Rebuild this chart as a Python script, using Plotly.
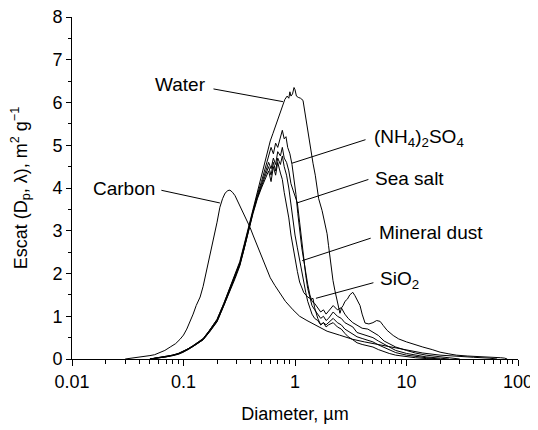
import math
import plotly.graph_objects as go

# ---------------- data ----------------
water_x = [0.05, 0.06, 0.07, 0.08, 0.09, 0.1, 0.11, 0.12, 0.13, 0.15, 0.17, 0.2, 0.23, 0.26, 0.29, 0.32,
           0.35, 0.38, 0.42, 0.46, 0.5, 0.54, 0.57, 0.6, 0.635, 0.67, 0.705, 0.74, 0.78, 0.81, 0.85, 0.88,
           0.9, 0.92, 0.95, 0.98, 1.0, 1.03, 1.07, 1.12, 1.18, 1.24, 1.3, 1.36, 1.45, 1.52, 1.57, 1.63,
           1.75, 1.85, 1.94, 2.0, 2.06, 2.12, 2.19, 2.28, 2.38, 2.46, 2.53, 2.62, 2.7, 2.81, 2.95, 3.1,
           3.3, 3.45, 3.6, 3.83, 4.0, 4.25, 4.6, 5.0, 5.4, 5.8, 6.2, 6.7, 7.6, 8.5, 10, 12, 14, 17, 20,
           24, 28, 35, 45, 56, 70, 76, 80]
water_y = [0.0, 0.03, 0.06, 0.09, 0.13, 0.18, 0.24, 0.3, 0.36, 0.48, 0.66, 0.93, 1.3, 1.66, 1.97, 2.28,
           2.68, 3.05, 3.52, 3.9, 4.25, 4.6, 4.9, 5.1, 5.28, 5.45, 5.6, 5.8, 5.95, 6.07, 6.15, 6.1,
           6.25, 6.15, 6.2, 6.35, 6.3, 6.15, 6.12, 6.1, 6.05, 5.67, 5.35, 5.05, 4.58, 4.3, 4.05, 3.75,
           3.47, 3.2, 2.93, 2.65, 2.37, 2.1, 1.84, 1.6, 1.37, 1.2, 1.07, 1.2, 1.25, 1.35, 1.4, 1.5,
           1.56, 1.48, 1.4, 1.25, 1.05, 0.84, 0.82, 0.85, 0.9, 0.88, 0.78, 0.67, 0.55, 0.47, 0.4, 0.33, 0.28, 0.22, 0.16,
           0.12, 0.09, 0.07, 0.06, 0.05, 0.03, 0.02, 0.0]

nh4_x = [0.05, 0.06, 0.07, 0.08, 0.09, 0.1, 0.11, 0.12, 0.13, 0.15, 0.17, 0.2, 0.23, 0.26, 0.29, 0.32,
         0.35, 0.38, 0.42, 0.46, 0.5, 0.54, 0.58, 0.61, 0.64, 0.67, 0.7, 0.74, 0.77, 0.8, 0.83, 0.86,
         0.9, 0.94, 0.98, 1.02, 1.06, 1.1, 1.15, 1.2, 1.25, 1.3, 1.36, 1.42, 1.5, 1.6, 1.7, 1.8, 1.9,
         2.0, 2.2, 2.4, 2.6, 2.8, 3.0, 3.3, 3.6, 4.0, 4.5, 5.0, 5.6, 6.3, 7.0, 8.0, 10, 12, 15, 20, 25, 30]
nh4_y = [0.0, 0.03, 0.06, 0.09, 0.13, 0.18, 0.24, 0.3, 0.36, 0.47, 0.66, 0.92, 1.3, 1.65, 1.95, 2.25,
         2.65, 3.02, 3.5, 3.85, 4.15, 4.45, 4.75, 4.95, 4.8, 5.05, 4.95, 5.2, 5.35, 5.15, 5.2, 4.95,
         4.8, 4.55, 4.2, 3.85, 3.4, 3.0, 2.6, 2.3, 2.0, 1.75, 1.5, 1.35, 1.3, 1.2, 1.1, 1.15, 1.05,
         1.12, 1.25, 1.15, 1.2, 1.05, 0.95, 0.85, 0.8, 0.72, 0.7, 0.63, 0.55, 0.42, 0.35, 0.28, 0.2, 0.14, 0.09, 0.05, 0.03, 0.0]

seasalt_x = [0.05, 0.06, 0.07, 0.08, 0.09, 0.1, 0.11, 0.12, 0.13, 0.15, 0.17, 0.2, 0.23, 0.26, 0.29, 0.32,
             0.35, 0.38, 0.42, 0.46, 0.5, 0.54, 0.58, 0.61, 0.64, 0.67, 0.7, 0.74, 0.77, 0.8, 0.84, 0.88,
             0.92, 0.96, 1.0, 1.05, 1.1, 1.15, 1.2, 1.25, 1.3, 1.36, 1.42, 1.5, 1.6, 1.7, 1.8, 1.9, 2.0,
             2.2, 2.4, 2.6, 2.8, 3.0, 3.3, 3.6, 4.0, 4.5, 5.0, 5.6, 6.3, 7.0, 8.0, 10, 12, 15, 20, 24]
seasalt_y = [0.0, 0.02, 0.05, 0.09, 0.12, 0.17, 0.23, 0.29, 0.35, 0.46, 0.64, 0.9, 1.27, 1.62, 1.93, 2.22,
             2.6, 3.0, 3.46, 3.8, 4.1, 4.4, 4.6, 4.45, 4.7, 4.55, 4.85, 4.75, 4.95, 4.7, 4.6, 4.4,
             4.1, 3.95, 3.8, 3.65, 3.2, 2.75, 2.3, 1.95, 1.65, 1.45, 1.25, 1.15, 1.05, 0.95, 1.0, 0.9, 0.95,
             1.1, 1.0, 0.95, 0.85, 0.8, 0.75, 0.62, 0.58, 0.55, 0.5, 0.42, 0.35, 0.28, 0.2, 0.13, 0.09, 0.05, 0.02, 0.0]

dust_x = [0.05, 0.06, 0.07, 0.08, 0.09, 0.1, 0.11, 0.12, 0.13, 0.15, 0.17, 0.2, 0.23, 0.26, 0.29, 0.32,
          0.35, 0.38, 0.42, 0.46, 0.5, 0.54, 0.58, 0.61, 0.64, 0.67, 0.7, 0.74, 0.77, 0.8, 0.84, 0.88,
          0.92, 0.96, 1.0, 1.05, 1.1, 1.15, 1.2, 1.25, 1.3, 1.36, 1.42, 1.5, 1.6, 1.7, 1.8, 1.9, 2.0,
          2.2, 2.4, 2.6, 2.8, 3.0, 3.3, 3.6, 4.0, 4.5, 5.0, 5.6, 6.3, 7.0, 8.0, 10, 12, 15, 20]
dust_y = [0.0, 0.03, 0.05, 0.08, 0.12, 0.17, 0.22, 0.28, 0.34, 0.45, 0.63, 0.88, 1.25, 1.6, 1.9, 2.2,
          2.58, 2.97, 3.43, 3.78, 4.05, 4.3, 4.5, 4.3, 4.6, 4.4, 4.7, 4.55, 4.75, 4.5, 4.3, 4.0,
          3.6, 3.2, 2.9, 2.6, 2.3, 2.0, 1.75, 1.55, 1.35, 1.2, 1.05, 0.95, 0.9, 0.8, 0.85, 0.8, 0.85,
          0.95, 0.85, 0.8, 0.7, 0.65, 0.6, 0.52, 0.48, 0.44, 0.4, 0.33, 0.27, 0.2, 0.15, 0.09, 0.06, 0.03, 0.0]

sio2_x = [0.05, 0.06, 0.07, 0.08, 0.09, 0.1, 0.11, 0.12, 0.13, 0.15, 0.17, 0.2, 0.23, 0.26, 0.29, 0.32,
          0.35, 0.38, 0.42, 0.46, 0.5, 0.54, 0.58, 0.61, 0.64, 0.67, 0.7, 0.74, 0.77, 0.8, 0.84, 0.88,
          0.92, 0.96, 1.0, 1.05, 1.1, 1.15, 1.2, 1.3, 1.4, 1.45, 1.5, 1.6, 1.7, 1.8, 1.9, 2.0, 2.2,
          2.4, 2.6, 2.8, 3.0, 3.3, 3.6, 4.0, 4.5, 5.0, 5.6, 6.3, 7.0, 8.0, 10, 12, 15, 18]
sio2_y = [0.0, 0.02, 0.05, 0.08, 0.11, 0.16, 0.22, 0.28, 0.34, 0.45, 0.62, 0.87, 1.24, 1.58, 1.88, 2.18,
          2.55, 2.95, 3.4, 3.75, 4.0, 4.2, 4.4, 4.15, 4.5, 4.3, 4.6, 4.35, 4.2, 3.9, 3.6, 3.3,
          2.9, 2.6, 2.3, 2.05, 1.8, 1.65, 1.55, 1.45, 1.4, 1.42, 1.2, 0.95, 0.8, 0.85, 0.75, 0.8, 0.85,
          0.75, 0.7, 0.6, 0.52, 0.45, 0.38, 0.34, 0.3, 0.28, 0.22, 0.17, 0.13, 0.09, 0.05, 0.03, 0.01, 0.0]

carbon_x = [0.03, 0.035, 0.04, 0.043, 0.05, 0.055, 0.062, 0.068, 0.076, 0.085, 0.093, 0.1, 0.107, 0.115,
            0.122, 0.13, 0.141, 0.15, 0.156, 0.165, 0.173, 0.185, 0.2, 0.212, 0.224, 0.236, 0.25, 0.261,
            0.275, 0.29, 0.305, 0.321, 0.345, 0.371, 0.395, 0.42, 0.45, 0.485, 0.53, 0.56, 0.6, 0.66,
            0.733, 0.82, 0.96, 1.1, 1.28, 1.5, 1.75, 1.94, 2.5, 3.3, 4.2, 5.0, 5.8, 7.5, 10, 14, 20,
            28, 40, 55, 65]
carbon_y = [0.0, 0.02, 0.04, 0.06, 0.08, 0.1, 0.16, 0.2, 0.28, 0.36, 0.46, 0.56, 0.7, 0.88,
            1.05, 1.25, 1.45, 1.7, 1.9, 2.2, 2.5, 2.85, 3.2, 3.55, 3.75, 3.88, 3.94, 3.95,
            3.9, 3.82, 3.7, 3.6, 3.42, 3.25, 3.08, 2.9, 2.7, 2.5, 2.25, 2.07, 1.9, 1.72,
            1.53, 1.35, 1.15, 1.0, 0.9, 0.8, 0.7, 0.65, 0.56, 0.46, 0.4, 0.36, 0.33, 0.27, 0.2, 0.14, 0.09,
            0.06, 0.04, 0.02, 0.0]

x_tickvals = [0.01, 0.1, 1, 10, 100]
x_ticktext = ["0.01", "0.1", "1", "10", "100"]
y_tickvals = [0, 1, 2, 3, 4, 5, 6, 7, 8]

# label text, label anchor (x in um, y), leader head on curve (x in um, y), leader tail offset (px)
labels = [
    ("Water",                         0.166, 6.42, "right", 0.78, 6.02, -71, -13),
    ("Carbon",                        0.058, 4.0,  "right", 0.212, 3.65, -60, -13),
    ("(NH<sub>4</sub>)<sub>2</sub>SO<sub>4</sub>", 4.9, 5.16, "left", 0.94, 4.58, 75, -24),
    ("Sea salt",                      5.0, 4.23,  "left", 1.04, 3.65, 73, -24),
    ("Mineral dust",                  5.45, 2.95, "left", 1.16, 2.30, 70, -23),
    ("SiO<sub>2</sub>",               5.55, 1.84, "left", 1.54, 1.42, 59, -16),
]

FONT = "Liberation Sans, Arial, Helvetica, sans-serif"

fig = go.Figure()
for xs, ys in [(carbon_x, carbon_y), (sio2_x, sio2_y), (dust_x, dust_y),
               (seasalt_x, seasalt_y), (nh4_x, nh4_y), (water_x, water_y)]:
    fig.add_trace(go.Scatter(x=xs, y=ys, mode="lines",
                             line=dict(color="black", width=1), showlegend=False,
                             hoverinfo="skip"))

minor_x = []
for dec in [0.01, 0.1, 1, 10]:
    for k in range(2, 10):
        minor_x.append(dec * k)

annotations = []
for text, tx, ty, anchor, hx, hy, ax, ay in labels:
    annotations.append(dict(x=math.log10(tx), y=ty, xref="x", yref="y", text=text,
                            showarrow=False, xanchor=anchor, yanchor="middle",
                            font=dict(family=FONT, size=19, color="black")))
    annotations.append(dict(x=math.log10(hx), y=hy, xref="x", yref="y", text="",
                            showarrow=True, arrowhead=0, arrowwidth=1, arrowcolor="black",
                            ax=ax, ay=ay, standoff=0, startstandoff=0))

# the page body adds an 8 px offset; the figure is sized so the plot lands where the reference has it
fig.update_layout(
    width=530, height=422,
    margin=dict(l=64, r=20, t=9, b=71, autoexpand=False),
    paper_bgcolor="white", plot_bgcolor="white",
    font=dict(family=FONT, size=18, color="black"),
    annotations=annotations,
    xaxis=dict(type="log", range=[-2, 2], tickmode="array", tickvals=x_tickvals,
               ticktext=x_ticktext, ticks="outside", ticklen=6, tickwidth=1, tickcolor="black",
               showline=True, linecolor="black", linewidth=1, showgrid=False, zeroline=False,
               automargin=False, ticklabeloverflow="allow",
               minor=dict(tickmode="array", tickvals=minor_x, ticks="outside", ticklen=4,
                          tickwidth=1, tickcolor="black", showgrid=False),
               title=dict(text="Diameter, µm", font=dict(size=18), standoff=16)),
    yaxis=dict(range=[0, 8], tickmode="array", tickvals=y_tickvals, ticks="outside", ticklen=5,
               tickwidth=1, tickcolor="black", showline=True, linecolor="black", linewidth=1,
               showgrid=False, zeroline=False, automargin=False, ticklabeloverflow="allow",
               minor=dict(dtick=0.5, ticks="outside", ticklen=3, tickwidth=1,
                          tickcolor="black", showgrid=False),
               title=dict(text="Escat (D<sub>p</sub>, λ), m<sup>2</sup> g<sup>−1</sup>",
                          font=dict(size=18), standoff=20)),
)

fig.write_html("out.html")
